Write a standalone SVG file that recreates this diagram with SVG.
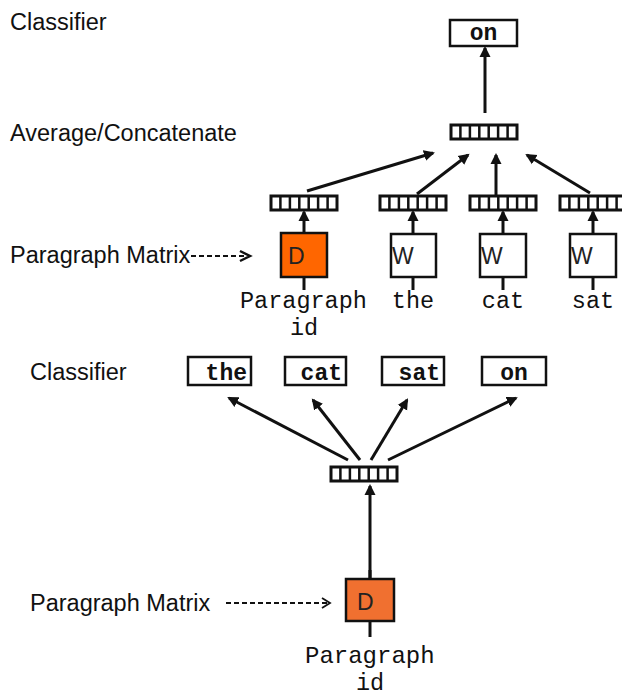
<svg xmlns="http://www.w3.org/2000/svg" xmlns:xlink="http://www.w3.org/1999/xlink" width="622" height="697" viewBox="0 0 622 697">
<style>
.lbl{font-family:"Liberation Sans",Arial,Helvetica,sans-serif;font-size:23.5px;fill:#111}
.mono{font-family:"Liberation Mono","Courier New",monospace;font-size:23.5px;fill:#111}
.monob{font-family:"Liberation Mono","Courier New",monospace;font-size:23px;font-weight:bold;fill:#111}
.box{fill:#fff;stroke:#111;stroke-width:2.5}
.dtop{fill:#ff6600;stroke:#111;stroke-width:2.5}
.dbot{fill:#f07030;stroke:#111;stroke-width:2.5}
.w{font-family:"Liberation Sans",Arial,sans-serif;font-size:23px;fill:#222}
.con{stroke:#111;stroke-width:3;fill:none}
.arr{stroke:#111;stroke-width:3;fill:none;marker-end:url(#ah)}
.dash{stroke:#111;stroke-width:1.8;fill:none;stroke-dasharray:5 3}
</style>
<defs>
<marker id="ah" markerWidth="12" markerHeight="12" refX="9" refY="6" orient="auto" markerUnits="userSpaceOnUse">
<path d="M0,0.5 L11,6 L0,11.5 z" fill="#111"/>
</marker>
<g id="vec">
<rect x="0" y="0" width="66" height="14" fill="#fff" stroke="#111" stroke-width="3"/>
<path d="M9.4,0V14M18.9,0V14M28.3,0V14M37.7,0V14M47.1,0V14M56.6,0V14" stroke="#111" stroke-width="2.5"/>
</g>
</defs>

<!-- Top model -->
<text class="lbl" x="10" y="30">Classifier</text>
<text class="lbl" x="10" y="141">Average/Concatenate</text>
<text class="lbl" x="10" y="263">Paragraph Matrix</text>

<g id="top-on"><rect class="box" x="450" y="20" width="67" height="26"/><text class="monob" x="483.5" y="40" text-anchor="middle">on</text></g>
<g id="top-avg"><use xlink:href="#vec" x="451" y="125"/></g>
<g id="top-vD"><use xlink:href="#vec" x="271" y="196"/></g>
<g id="top-v1"><use xlink:href="#vec" x="380" y="196"/></g>
<g id="top-v2"><use xlink:href="#vec" x="470" y="196"/></g>
<g id="top-v3"><use xlink:href="#vec" x="560" y="196"/></g>
<g id="top-D"><rect class="dtop" x="281" y="233" width="46" height="44"/><text class="w" x="288" y="264">D</text></g>
<g id="top-W1"><rect class="box" x="391" y="234" width="45" height="43"/><text class="w" x="392" y="264">W</text></g>
<g id="top-W2"><rect class="box" x="480" y="234" width="46" height="43"/><text class="w" x="481" y="264">W</text></g>
<g id="top-W3"><rect class="box" x="570" y="234" width="46" height="43"/><text class="w" x="571" y="264">W</text></g>
<g id="top-pid"><text class="mono" x="240" y="308">Paragraph</text><text class="mono" x="304" y="335" text-anchor="middle">id</text></g>
<g id="top-the"><text class="mono" x="413" y="308" text-anchor="middle">the</text></g>
<g id="top-cat"><text class="mono" x="503" y="308" text-anchor="middle">cat</text></g>
<g id="top-sat"><text class="mono" x="593" y="308" text-anchor="middle">sat</text></g>

<!-- Bottom model -->
<text class="lbl" x="30" y="380">Classifier</text>
<text class="lbl" x="30" y="611">Paragraph Matrix</text>
<g id="b-the"><rect class="box" x="188" y="357" width="63" height="28"/><text class="monob" x="247" y="380" text-anchor="end">the</text></g>
<g id="b-cat"><rect class="box" x="285" y="357" width="61" height="28"/><text class="monob" x="342" y="380" text-anchor="end">cat</text></g>
<g id="b-sat"><rect class="box" x="382" y="357" width="62" height="28"/><text class="monob" x="440" y="380" text-anchor="end">sat</text></g>
<g id="b-on"><rect class="box" x="482" y="357" width="64" height="28"/><text class="monob" x="514" y="380" text-anchor="middle">on</text></g>
<g id="b-vec"><use xlink:href="#vec" x="331" y="467"/></g>
<g id="b-D"><rect class="dbot" x="346" y="579" width="48" height="42"/><text class="w" x="357" y="610">D</text></g>
<g id="b-pid"><text class="mono" x="305" y="663" style="font-size:24px">Paragraph</text><text class="mono" x="370" y="690" text-anchor="middle">id</text></g>

<g id="connectors">
<line class="arr" x1="485" y1="113" x2="485" y2="48"/>
<line class="arr" x1="307" y1="191" x2="433" y2="153"/>
<line class="arr" x1="417" y1="194" x2="468" y2="155"/>
<line class="arr" x1="496" y1="195" x2="496" y2="155"/>
<line class="arr" x1="590" y1="193" x2="527" y2="155"/>
<line class="arr" x1="304" y1="233" x2="304" y2="212"/>
<line class="arr" x1="413" y1="234" x2="413" y2="212"/>
<line class="arr" x1="503" y1="234" x2="503" y2="212"/>
<line class="arr" x1="593" y1="234" x2="593" y2="212"/>
<line class="con" x1="304" y1="277" x2="304" y2="290"/>
<line class="con" x1="413" y1="277" x2="413" y2="290"/>
<line class="con" x1="503" y1="277" x2="503" y2="290"/>
<line class="con" x1="593" y1="277" x2="593" y2="290"/>
<line class="dash" x1="191" y1="256" x2="244" y2="256"/>
<path d="M240,251 L250,256 L240,261" fill="none" stroke="#111" stroke-width="2.5"/>
<line class="arr" x1="348" y1="460" x2="229" y2="398"/>
<line class="arr" x1="360" y1="460" x2="313" y2="400"/>
<line class="arr" x1="371" y1="460" x2="407" y2="400"/>
<line class="arr" x1="388" y1="460" x2="516" y2="398"/>
<line class="arr" x1="370" y1="579" x2="370" y2="486"/>
<line class="con" x1="370" y1="570" x2="370" y2="579"/>
<line class="con" x1="370" y1="621" x2="370" y2="637"/>
<line class="dash" x1="226" y1="603" x2="328" y2="603"/>
<path d="M322,598 L330,603 L322,608" fill="none" stroke="#111" stroke-width="1.8"/>
</g>
</svg>
